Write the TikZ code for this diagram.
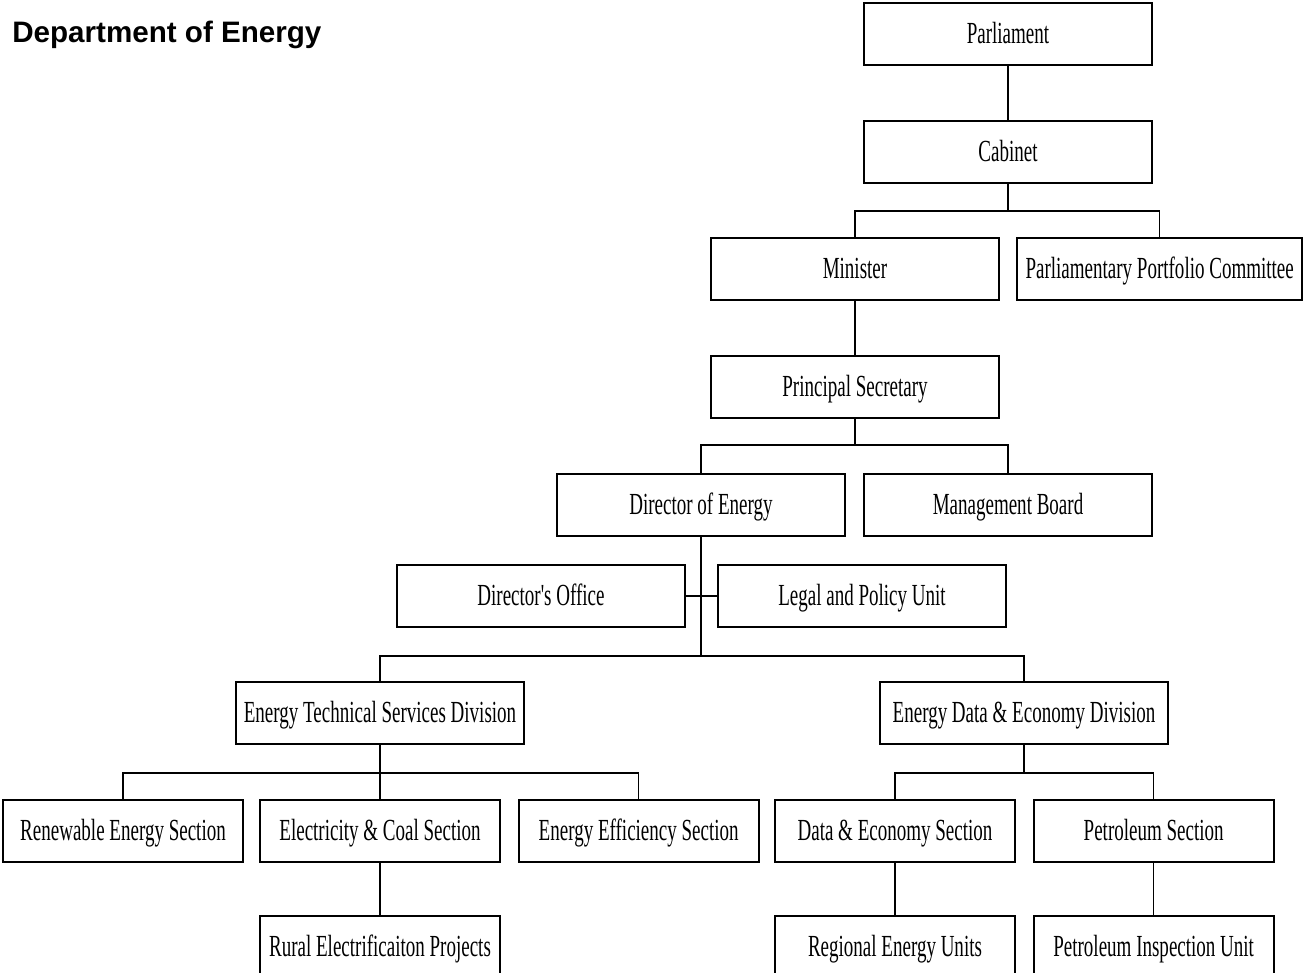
\documentclass[tikz,border=0pt]{standalone}
\usepackage{fontspec}
\setmainfont{Liberation Serif}
\newfontfamily\orgfont[FakeStretch=0.62]{Liberation Serif}
\newfontfamily\headfont{Liberation Sans}
\usepackage{tikz}
\usetikzlibrary{positioning}

\tikzset{
  orgbox/.style={draw,line width=1.5pt,minimum width=216pt,minimum height=46.5pt,inner sep=0pt,
    text height=18pt,text depth=3.8pt,font=\orgfont\fontsize{23}{26}\selectfont},
  secbox/.style={orgbox,minimum width=180pt},
  link/.style={line width=1.1pt}
}

\begin{document}
\begin{tikzpicture}[x=0.75pt,y=-0.75pt]
  \clip (0,0) rectangle (1304,972);
  \useasboundingbox (0,0) rectangle (1304,972);
  \node[anchor=base west,font=\headfont\bfseries\fontsize{22.2}{25}\selectfont,inner sep=0pt] (title) at (12,42) {Department of Energy};

  % top of the chart
  \node[orgbox] (parl) at (1008,34) {Parliament};
  \node[orgbox,below=40.5pt of parl] (cab) {Cabinet};
  \node[orgbox] (min) at (855,269) {Minister};
  \node[orgbox,right=12pt of min,minimum width=214pt] (ppc) {Parliamentary Portfolio Committee};
  \node[orgbox,below=40.5pt of min] (ps) {Principal Secretary};
  \node[orgbox] (doe) at (701,505) {Director of Energy};
  \node[orgbox,right=12.75pt of doe] (mb) {Management Board};
  \node[orgbox] (dof) at (541,596) {Director's Office};
  \node[orgbox,right=23.25pt of dof] (lpu) {Legal and Policy Unit};

  % divisions
  \node[orgbox] (etsd) at (380,713) {Energy Technical Services Division};
  \node[orgbox] (eded) at (1024,713) {Energy Data \& Economy Division};

  % sections
  \node[secbox] (ren) at (123,831) {Renewable Energy Section};
  \node[secbox,right=11.25pt of ren] (elec) {Electricity \& Coal Section};
  \node[secbox,right=12.5pt of elec] (eff) {Energy Efficiency Section};
  \node[secbox] (dat) at (895,831) {Data \& Economy Section};
  \node[secbox,right=12.5pt of dat] (pet) {Petroleum Section};
  \node[secbox,below=39pt of elec] (rur) {Rural Electrificaiton Projects};
  \node[secbox,below=39pt of dat] (reg) {Regional Energy Units};
  \node[secbox,below=39pt of pet] (pin) {Petroleum Inspection Unit};

  % connectors
  \draw[link] (parl) -- (cab);
  \draw[link] (cab.south) -- ++(0,27) -| (min.north);
  \draw[link] (cab.south) -- ++(0,27) -| (ppc.north);
  \draw[link] (min) -- (ps);
  \draw[link] (ps.south) -- ++(0,26) -| (doe.north);
  \draw[link] (ps.south) -- ++(0,26) -| (mb.north);
  \draw[link] (dof.east) -- (lpu.west);
  \draw[link] (doe.south) -- ++(0,119) coordinate (split) -| (etsd.north);
  \draw[link] (split) -| (eded.north);
  \draw[link] (etsd.south) -- ++(0,28) -| (ren.north);
  \draw[link] (etsd.south) -- ++(0,28) -| (eff.north);
  \draw[link] (etsd) -- (elec);
  \draw[link] (eded.south) -- ++(0,28) -| (dat.north);
  \draw[link] (eded.south) -- ++(0,28) -| (pet.north);
  \draw[link] (elec) -- (rur);
  \draw[link] (dat) -- (reg);
  \draw[link] (pet) -- (pin);
\end{tikzpicture}
\end{document}
